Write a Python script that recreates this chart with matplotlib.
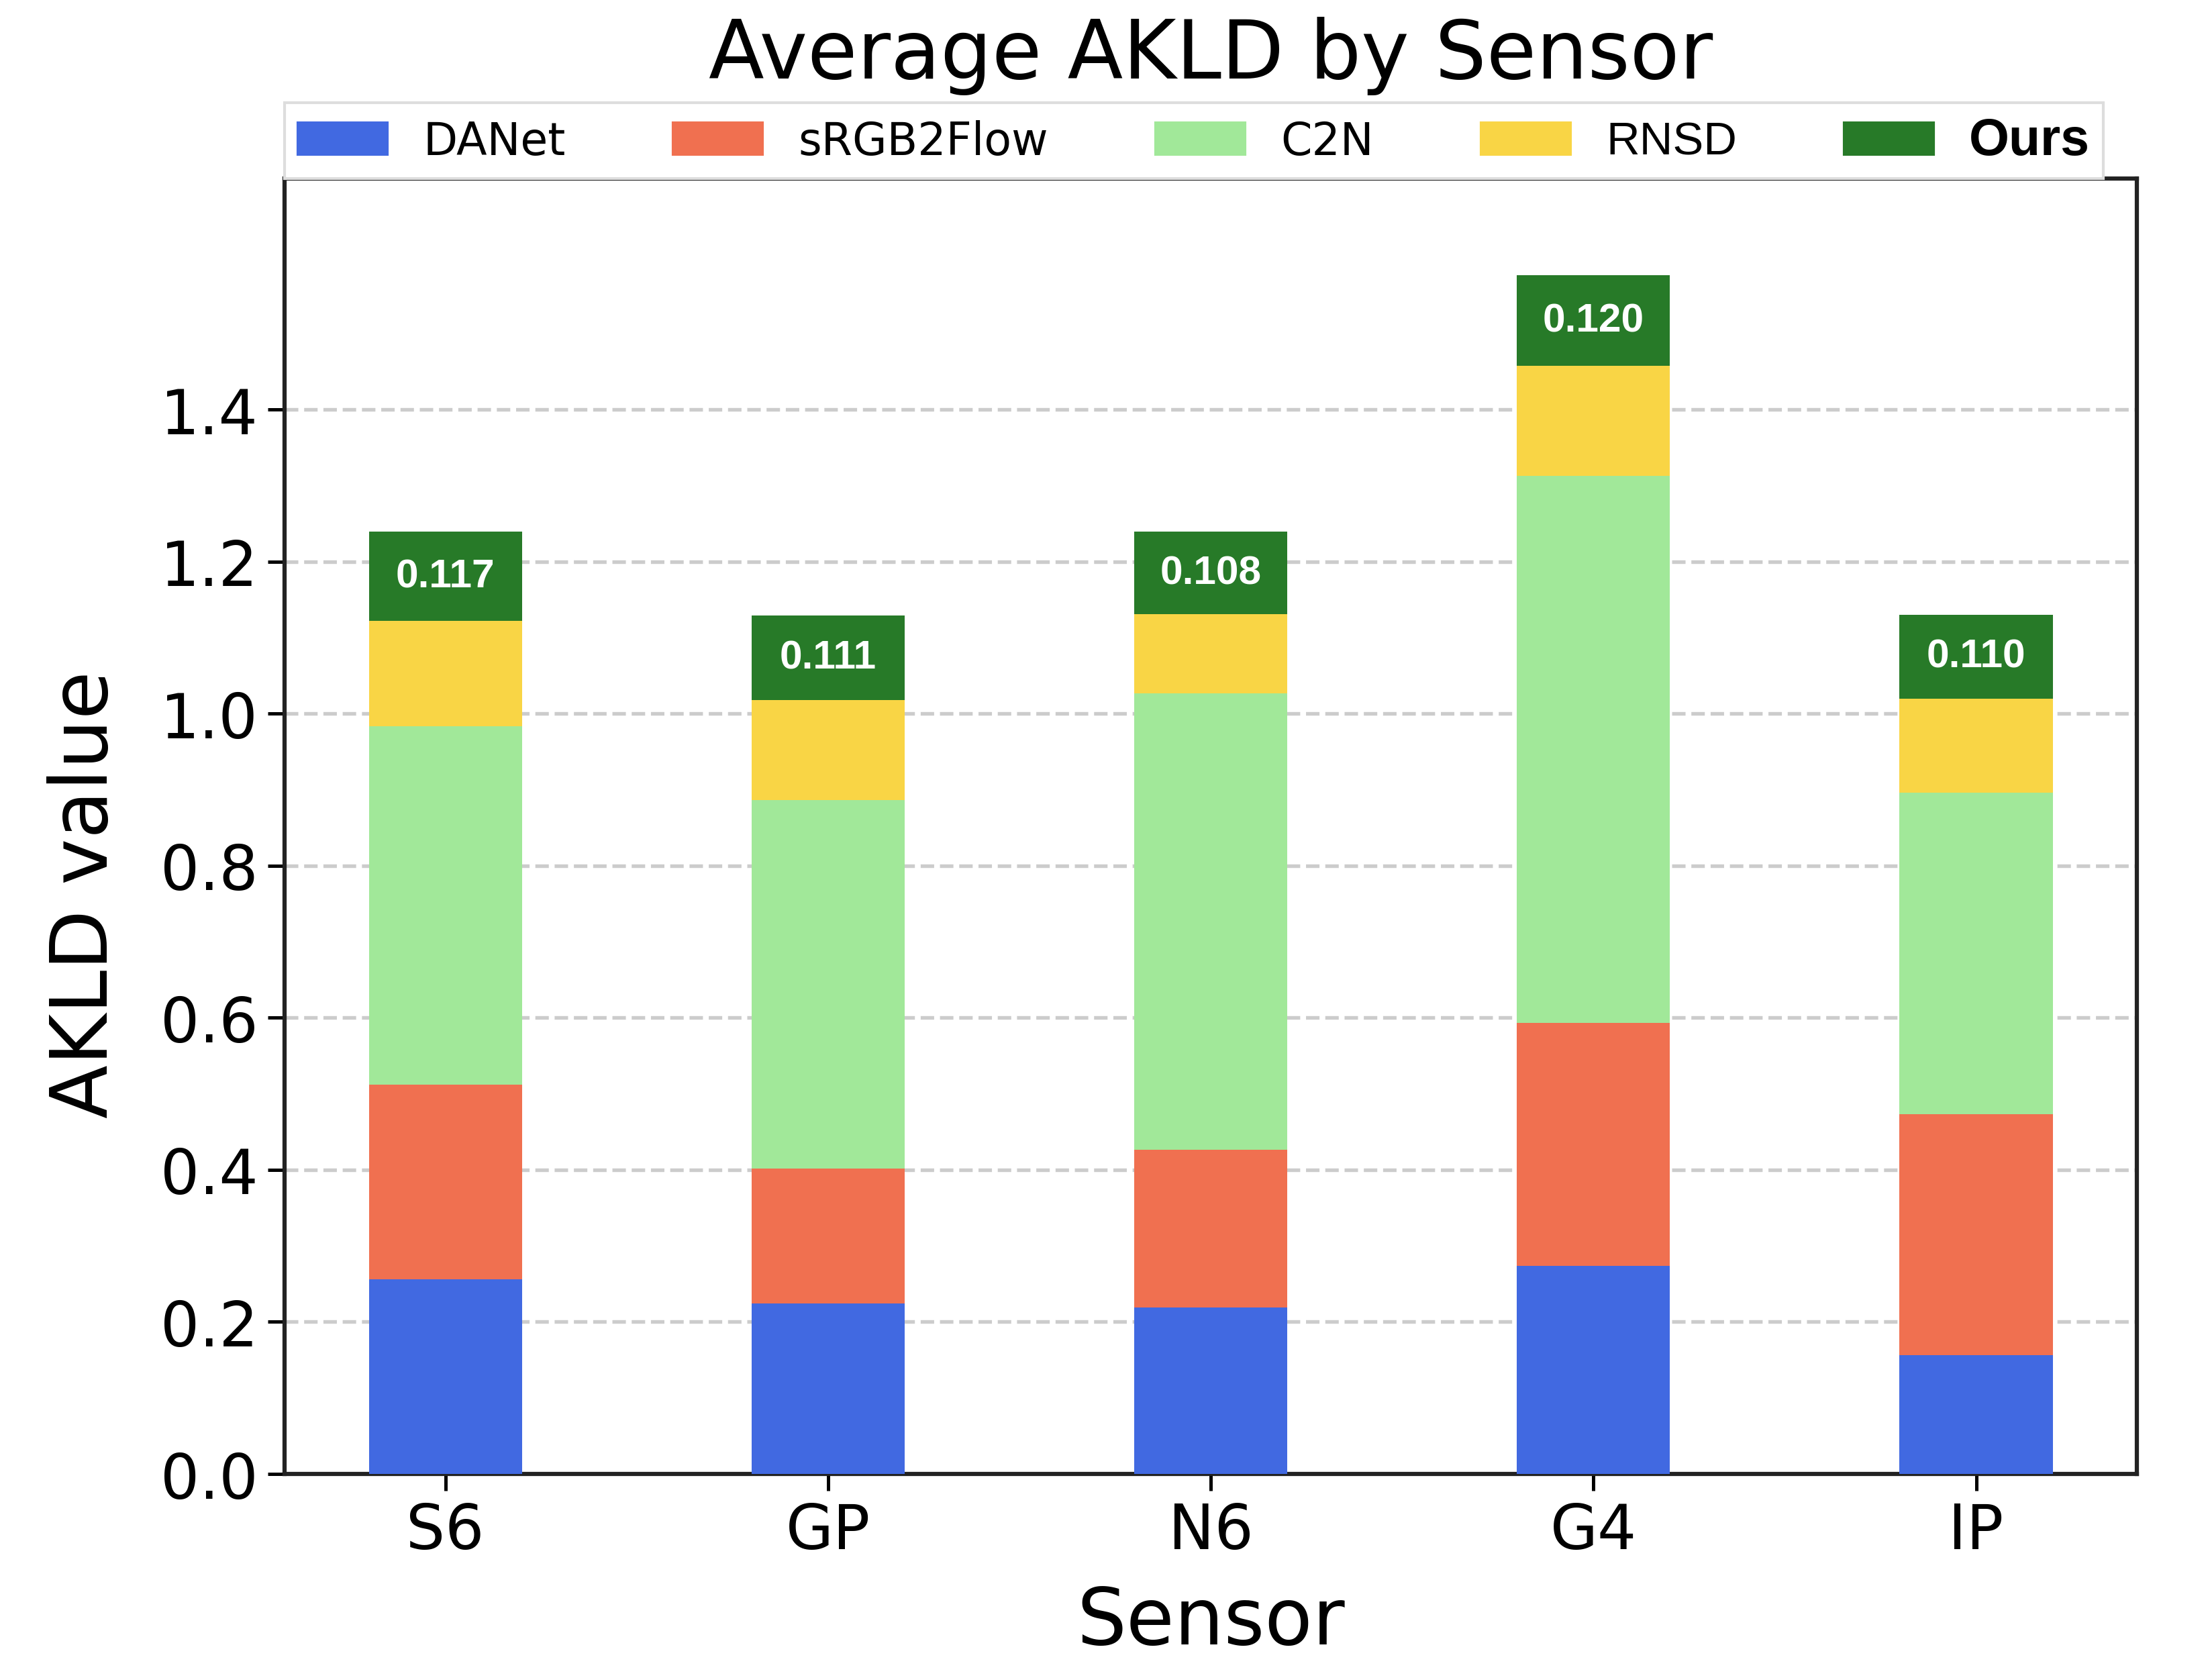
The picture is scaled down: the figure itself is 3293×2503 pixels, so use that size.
import numpy as np
import matplotlib
matplotlib.use("Agg")
from matplotlib import pyplot as plt
from matplotlib.patches import Patch

sensors = ['S6', 'GP', 'N6', 'G4', 'IP']
methods = ['DANet', 'sRGB2Flow', 'C2N', 'RNSD', 'Ours']
danet = [0.256, 0.224, 0.219, 0.274, 0.156]
srgb2flow = [0.256, 0.178, 0.207, 0.319, 0.317]
c2n = [0.471, 0.484, 0.601, 0.720, 0.423]
rnsd = [0.139, 0.132, 0.104, 0.144, 0.124]
ours = [0.117, 0.111, 0.108, 0.120, 0.110]
yticks = [0.0, 0.2, 0.4, 0.6, 0.8, 1.0, 1.2, 1.4]

colors = ['#4169E1', '#F07050', '#A1E899', '#F9D545', '#277A28']

fig = plt.figure(figsize=(3293 / 300, 2504 / 300), dpi=300)
ax = fig.add_axes([0.1288, 0.1226, 0.8381, 0.7709])

x = np.arange(len(sensors))
width = 0.4
bottom = np.zeros(len(sensors))
series = [danet, srgb2flow, c2n, rnsd, ours]
for name, vals, c in zip(methods, series, colors):
    vals = np.array(vals)
    ax.bar(x, vals, width, bottom=bottom, color=c, label=name, zorder=3)
    if name == 'Ours':
        # value labels centred in the top segment
        for xi, b, v in zip(x, bottom, vals):
            ax.text(xi, b + v / 2, f'{v:.3f}', ha='center', va='center',
                    color='white', fontsize=14.5, fontweight='bold',
                    family='Liberation Sans', zorder=4)
    bottom += vals

ax.set_xticks(x)
ax.set_xticklabels(sensors)
ax.set_yticks(yticks)
ax.set_yticklabels([f'{t:.1f}' for t in yticks])
ax.tick_params(axis='both', labelsize=22, width=1.2, length=6)
ax.set_ylim(0, 1.704)
ax.set_xlim(-0.42, 4.42)
ax.grid(axis='y', linestyle='--', color='#cccccc', lw=1.3, zorder=0)
ax.set_axisbelow(True)
for s in ax.spines.values():
    s.set_linewidth(1.5)
    s.set_color('#222222')

ax.set_xlabel('Sensor', fontsize=28, labelpad=8)
ax.set_ylabel('AKLD value', fontsize=28)
ax.yaxis.set_label_coords(-0.0866, 0.448)
ax.set_title('Average AKLD by Sensor', fontsize=29, pad=36)

handles = [Patch(color=c) for c in colors]
leg = ax.legend(handles, methods, loc='lower left', ncol=5,
                bbox_to_anchor=(0, 1.0, 0.982, 0.06), mode='expand',
                borderaxespad=0, borderpad=0.3, fontsize=16, frameon=True,
                fancybox=False, edgecolor='#dddddd', framealpha=1)
leg.set_zorder(5)
texts = leg.get_texts()
texts[3].set_family('Liberation Sans')
texts[3].set_fontsize(16.5)
texts[4].set_family('Liberation Sans')
texts[4].set_fontweight('bold')
texts[4].set_fontsize(18.5)

fig.savefig('out.png', dpi=300, facecolor='white')
